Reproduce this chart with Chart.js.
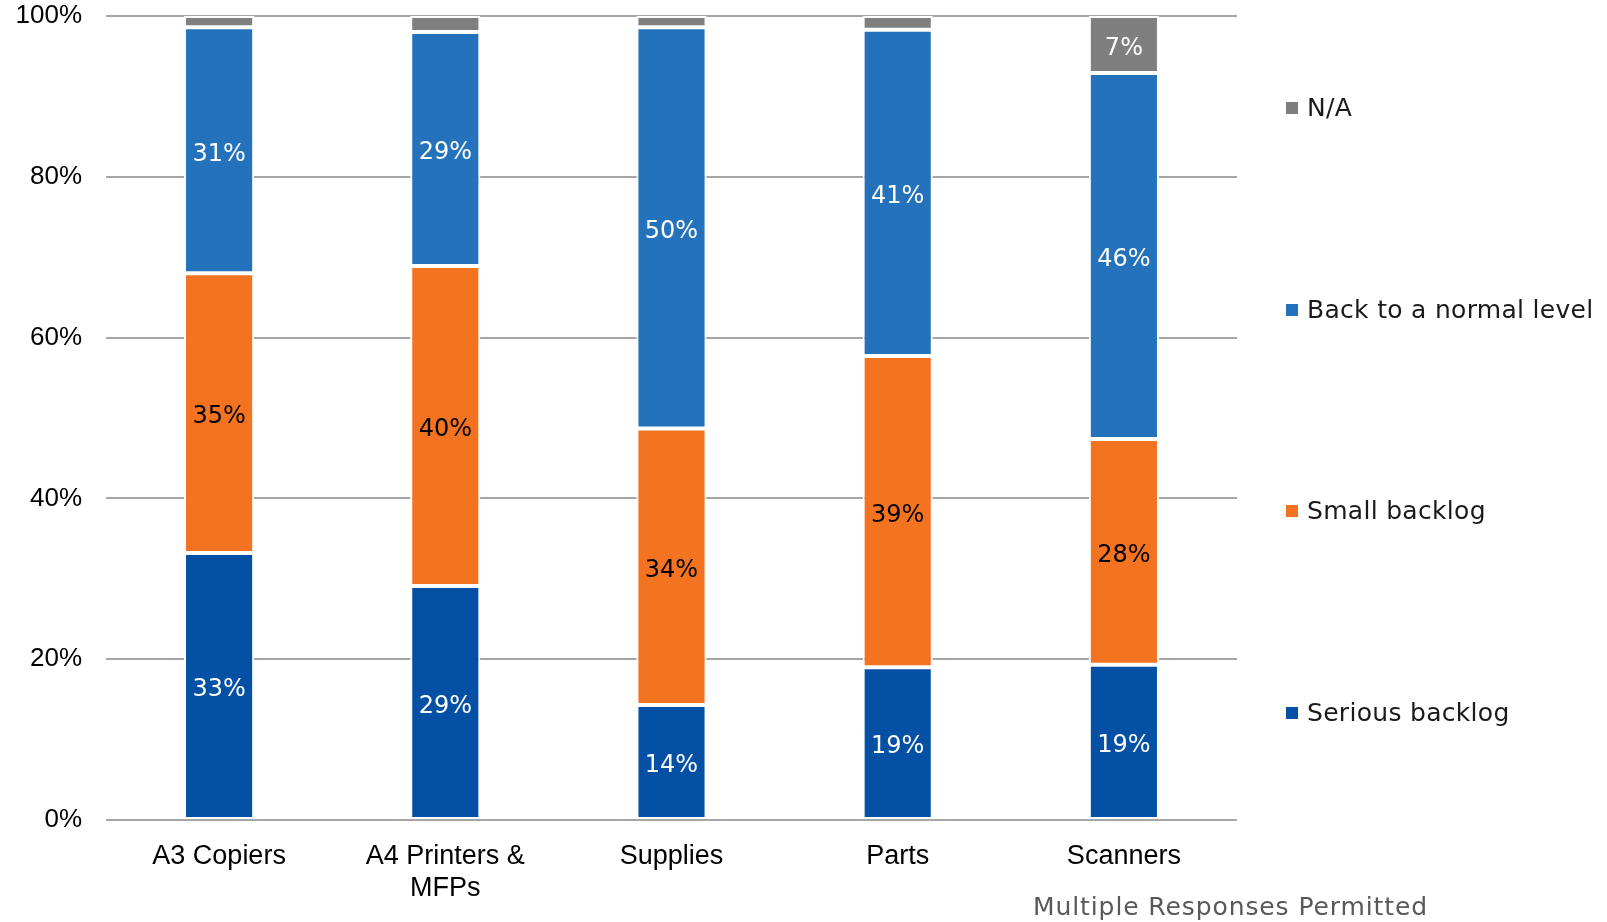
<!DOCTYPE html>
<html>
<head>
<meta charset="utf-8">
<script src="https://cdn.jsdelivr.net/npm/chart.js@4.4.0/dist/chart.umd.min.js"></script>
<style>
  html, body { margin: 0; padding: 0; background: #fff; }
  #wrap { position: relative; width: 1607px; height: 922px; }
  #legend { position: absolute; left: 1286px; top: 0; font-family: "DejaVu Sans", sans-serif; font-size: 25px; letter-spacing: 0.3px; color: #1a1a1a; }
  .item { position: absolute; white-space: nowrap; display: flex; align-items: center; }
  .box { width: 12px; height: 12px; margin-right: 9px; }
  #note { position: absolute; left: 1033px; top: 892px; font-family: "DejaVu Sans", sans-serif; font-size: 25px; letter-spacing: 0.9px; color: #595959; }
</style>
</head>
<body>
<div id="wrap">
  <canvas id="myChart" width="1607" height="922"></canvas>
  <div id="legend"></div>
  <div id="note">Multiple Responses Permitted</div>
</div>
<script>
// data
var categories = ['A3 Copiers', ['A4 Printers &', 'MFPs'], 'Supplies', 'Parts', 'Scanners'];
var seriesNames = ['Serious backlog', 'Small backlog', 'Back to a normal level', 'N/A'];
var serious = [33.2, 29.1, 14.3, 19.0, 19.3];
var small = [34.8, 39.8, 34.4, 38.7, 28.1];
var normal = [30.6, 29.1, 49.9, 40.6, 45.5];
var na = [1.4, 2.0, 1.4, 1.7, 7.1];
var yTicks = [0, 20, 40, 60, 80, 100];

var colors = ['#0450a5', '#f37321', '#2372bb', '#7f7f7f'];
var labelColors = ['#ffffff', '#000000', '#ffffff', '#ffffff'];
var seriesData = [serious, small, normal, na];

var datasets = [];
for (var i = 0; i < seriesData.length; i++) {
  datasets.push({
    label: seriesNames[i],
    data: seriesData[i],
    backgroundColor: colors[i],
    borderColor: '#ffffff',
    borderWidth: 2,
    borderSkipped: false,
    barPercentage: 0.31,
    categoryPercentage: 1
  });
}

// labels in the middle of each segment
var segLabels = {
  id: 'segLabels',
  afterDatasetsDraw: function(chart) {
    var ctx = chart.ctx;
    ctx.save();
    ctx.font = '24px "DejaVu Sans", sans-serif';
    ctx.textAlign = 'center';
    ctx.textBaseline = 'middle';
    chart.data.datasets.forEach(function(ds, di) {
      var meta = chart.getDatasetMeta(di);
      meta.data.forEach(function(bar, j) {
        var v = ds.data[j];
        if (v < 5) return;
        ctx.fillStyle = labelColors[di];
        ctx.fillText(Math.round(v) + '%', bar.x, (bar.y + bar.base) / 2 + 4);
      });
    });
    ctx.restore();
  }
};

var ctx = document.getElementById('myChart').getContext('2d');
var myChart = new Chart(ctx, {
  type: 'bar',
  data: { labels: categories, datasets: datasets },
  options: {
    responsive: false,
    animation: false,
    layout: { padding: { left: 0, right: 370, top: 16, bottom: 0 } },
    plugins: { legend: { display: false }, tooltip: { enabled: false } },
    scales: {
      x: {
        stacked: true,
        grid: { display: false },
        border: { display: false },
        ticks: {
          color: '#000',
          padding: 12,
          font: { family: 'Liberation Sans', size: 27, lineHeight: 1.2 },
          maxRotation: 0, autoSkip: false
        },
        afterFit: function(s) { s.height = 102; }
      },
      y: {
        stacked: true,
        min: 0, max: 100,
        afterBuildTicks: function(s) { s.ticks = yTicks.map(function(v) { return { value: v }; }); },
        grid: { color: '#a6a6a6', lineWidth: 2, drawTicks: false },
        border: { display: false },
        ticks: {
          color: '#000',
          padding: 24,
          font: { family: 'Liberation Sans', size: 26 },
          callback: function(v) { return v + '%'; }
        },
        afterFit: function(s) { s.width = 106; s.paddingTop = 0; s.paddingBottom = 0; }
      }
    }
  },
  plugins: [segLabels]
});

// legend on the right, top item is N/A
var legend = document.getElementById('legend');
var legendY = [108, 310, 511, 713];
for (var k = seriesNames.length - 1, n = 0; k >= 0; k--, n++) {
  var it = document.createElement('div');
  it.className = 'item';
  it.style.top = (legendY[n] - 15) + 'px';
  it.innerHTML = '<span class="box" style="background:' + colors[k] + '"></span>' + seriesNames[k];
  legend.appendChild(it);
}
</script>
</body>
</html>
